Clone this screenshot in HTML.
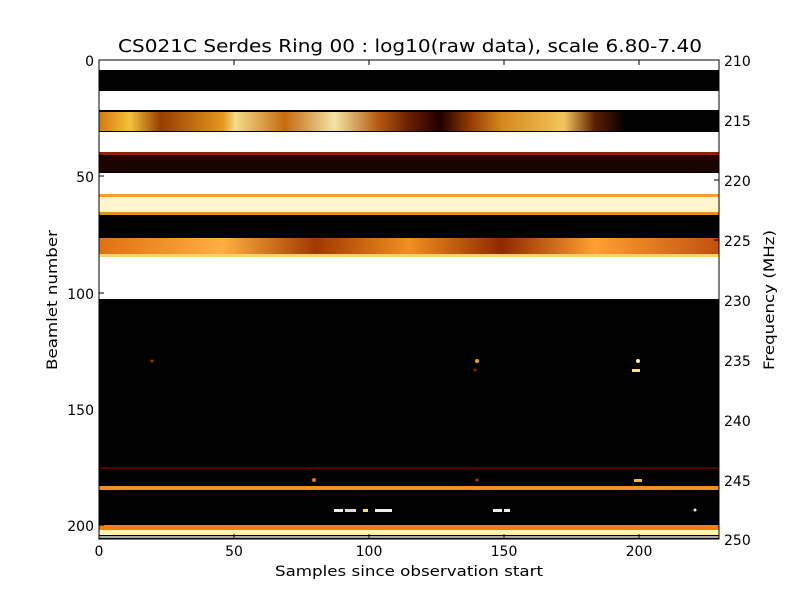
<!DOCTYPE html>
<html><head><meta charset="utf-8"><style>
body{margin:0;background:#fff;}
text{font-family:"DejaVu Sans","Liberation Sans",sans-serif;}
</style></head><body>
<svg width="800" height="600" xmlns="http://www.w3.org/2000/svg">
<defs>
<linearGradient id="g1" x1="0" x2="1" y1="0" y2="0">
<stop offset="0" stop-color="#e08010"/><stop offset="0.05" stop-color="#ffcc40"/><stop offset="0.1" stop-color="#a04000"/>
<stop offset="0.2" stop-color="#f0a020"/><stop offset="0.22" stop-color="#ffe890"/><stop offset="0.3" stop-color="#d07010"/>
<stop offset="0.38" stop-color="#fff0b0"/><stop offset="0.45" stop-color="#c06010"/><stop offset="0.5" stop-color="#702000"/>
<stop offset="0.55" stop-color="#200000"/><stop offset="0.6" stop-color="#a04000"/><stop offset="0.65" stop-color="#e09020"/>
<stop offset="0.75" stop-color="#ffd060"/><stop offset="0.8" stop-color="#602000"/><stop offset="0.85" stop-color="#000"/><stop offset="1" stop-color="#000"/>
</linearGradient>
<linearGradient id="g2" x1="0" x2="1">
<stop offset="0" stop-color="#e07010"/><stop offset="0.2" stop-color="#ffb040"/><stop offset="0.35" stop-color="#a03800"/>
<stop offset="0.5" stop-color="#f09020"/><stop offset="0.65" stop-color="#902800"/><stop offset="0.8" stop-color="#ffa030"/><stop offset="1" stop-color="#c05010"/>
</linearGradient>
</defs>
<text x="410" y="52" font-size="18" text-anchor="middle" textLength="584" lengthAdjust="spacingAndGlyphs">CS021C Serdes Ring 00 : log10(raw data), scale 6.80-7.40</text>
<rect x="99" y="60" width="620" height="479" fill="#000"/>
<rect x="99" y="60" width="620" height="10" fill="#fff"/>
<rect x="99" y="91" width="620" height="19" fill="#fff"/>
<rect x="99" y="112" width="620" height="19" fill="url(#g1)" opacity="0.95"/>
<rect x="99" y="132" width="620" height="20" fill="#fff"/>
<rect x="99" y="152" width="620" height="3" fill="#902000"/>
<rect x="99" y="156" width="620" height="16" fill="#1a0300"/>
<rect x="99" y="173" width="620" height="21" fill="#fff"/>
<rect x="99" y="194" width="620" height="3" fill="#f0a030"/>
<rect x="99" y="197" width="620" height="16" fill="#fff6d0"/>
<rect x="99" y="212" width="620" height="3" fill="#e09020"/>
<rect x="99" y="238" width="620" height="17" fill="url(#g2)"/>
<rect x="99" y="254" width="620" height="3" fill="#ffd070"/>
<rect x="99" y="257" width="620" height="42" fill="#fff"/>
<rect x="99" y="467" width="620" height="2" fill="#500000"/>
<rect x="99" y="486" width="620" height="4" fill="#f09020"/>
<circle cx="152" cy="361" r="1.5" fill="#c03000"/>
<circle cx="477" cy="361" r="2" fill="#f0a030"/>
<circle cx="475" cy="370" r="1.5" fill="#a02000"/>
<circle cx="638" cy="361" r="2" fill="#fff0c0"/>
<rect x="632" y="369" width="8" height="3" fill="#ffe080"/>
<circle cx="314" cy="480" r="2" fill="#f07020"/>
<circle cx="477" cy="480" r="1.5" fill="#c03000"/>
<rect x="634" y="479" width="8" height="3" fill="#ffb040"/>
<rect x="334" y="509" width="9" height="3" fill="#eee"/>
<rect x="345" y="509" width="11" height="3" fill="#ddd"/>
<rect x="363" y="509" width="5" height="3" fill="#ffe060"/>
<rect x="375" y="509" width="17" height="3" fill="#eee"/>
<rect x="493" y="509" width="9" height="3" fill="#eee"/>
<rect x="504" y="509" width="6" height="3" fill="#eee"/>
<circle cx="695" cy="510" r="1.5" fill="#eee"/>
<rect x="99" y="525" width="620" height="5" fill="#f08010"/>
<rect x="99" y="530" width="620" height="5" fill="#fff4b0"/>
<rect x="99" y="536" width="620" height="2" fill="#aaa"/>
<rect x="99" y="60" width="620" height="479" fill="none" stroke="#000" stroke-width="1"/>
<g stroke="#000" stroke-width="1">
<line x1="99" y1="60" x2="104" y2="60"/><line x1="99" y1="176" x2="104" y2="176"/><line x1="99" y1="293" x2="104" y2="293"/><line x1="99" y1="409" x2="104" y2="409"/><line x1="99" y1="525" x2="104" y2="525"/>
<line x1="714" y1="60" x2="719" y2="60"/><line x1="714" y1="120" x2="719" y2="120"/><line x1="714" y1="180" x2="719" y2="180"/><line x1="714" y1="240" x2="719" y2="240"/><line x1="714" y1="300" x2="719" y2="300"/><line x1="714" y1="360" x2="719" y2="360"/><line x1="714" y1="420" x2="719" y2="420"/><line x1="714" y1="480" x2="719" y2="480"/>
<line x1="234" y1="539" x2="234" y2="534"/><line x1="369" y1="539" x2="369" y2="534"/><line x1="504" y1="539" x2="504" y2="534"/><line x1="639" y1="539" x2="639" y2="534"/>
<line x1="234" y1="60" x2="234" y2="65"/><line x1="369" y1="60" x2="369" y2="65"/><line x1="504" y1="60" x2="504" y2="65"/><line x1="639" y1="60" x2="639" y2="65"/>
</g>
<g font-size="14" text-anchor="end">
<text x="94" y="66">0</text><text x="94" y="182">50</text><text x="94" y="299">100</text><text x="94" y="415">150</text><text x="94" y="531">200</text>
</g>
<g font-size="14" text-anchor="start">
<text x="724" y="66">210</text><text x="724" y="126">215</text><text x="724" y="186">220</text><text x="724" y="246">225</text><text x="724" y="306">230</text><text x="724" y="366">235</text><text x="724" y="426">240</text><text x="724" y="486">245</text><text x="724" y="545">250</text>
</g>
<g font-size="14" text-anchor="middle">
<text x="99" y="556">0</text><text x="234" y="556">50</text><text x="369" y="556">100</text><text x="504" y="556">150</text><text x="639" y="556">200</text>
<text x="409" y="576" textLength="268" lengthAdjust="spacingAndGlyphs">Samples since observation start</text>
<text transform="translate(57,300) rotate(-90)" textLength="140" lengthAdjust="spacingAndGlyphs">Beamlet number</text>
<text transform="translate(774,300) rotate(-90)" textLength="140" lengthAdjust="spacingAndGlyphs">Frequency (MHz)</text>
</g>
</svg>
</body></html>
